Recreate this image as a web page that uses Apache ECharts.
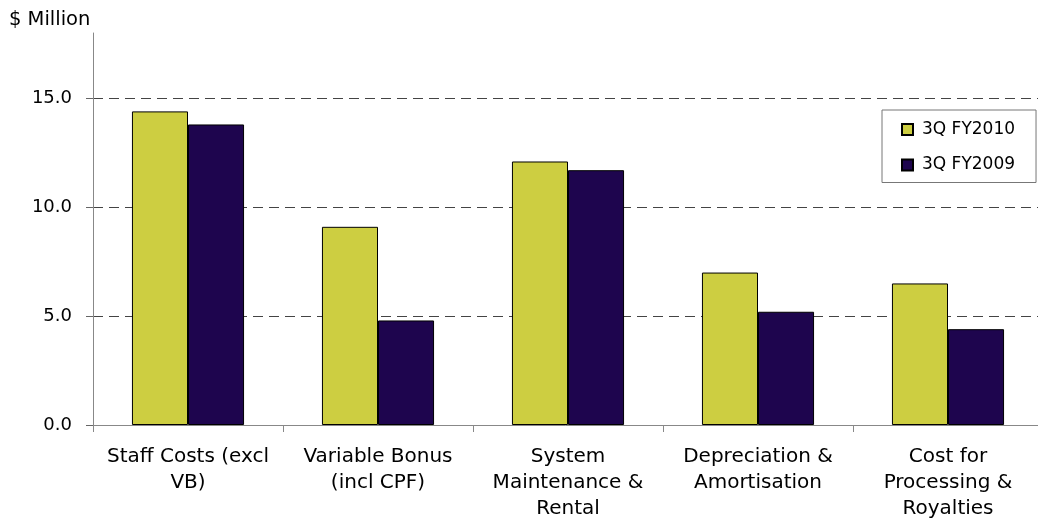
<!DOCTYPE html>
<html>
<head>
<meta charset="utf-8">
<script src="https://cdn.jsdelivr.net/npm/echarts@6/dist/echarts.min.js"></script>
<style>
html,body{margin:0;padding:0;background:#fff;}
#chart{width:1038px;height:518px;}
</style>
</head>
<body>
<div id="chart"></div>
<script>
const categories = [
  "Staff Costs (excl\nVB)",
  "Variable Bonus\n(incl CPF)",
  "System\nMaintenance &\nRental",
  "Depreciation &\nAmortisation",
  "Cost for\nProcessing &\nRoyalties"
];
const seriesNames = ["3Q FY2010", "3Q FY2009"];
const fy2010 = [14.4, 9.1, 12.1, 7.0, 6.5];
const fy2009 = [13.8, 4.8, 11.7, 5.2, 4.4];
const yTicks = [0, 5, 10, 15];
const yAxisTitle = "$ Million";

const FONT = "'DejaVu Sans', Verdana, sans-serif";
const chart = echarts.init(document.getElementById('chart'), null, {renderer: 'canvas'});
chart.setOption({
  animation: false,
  backgroundColor: '#ffffff',
  title: {
    text: yAxisTitle,
    left: 9, top: 10, padding: 0,
    textStyle: {fontFamily: FONT, fontSize: 19.5, fontWeight: 'normal', color: '#000'}
  },
  legend: {
    orient: 'vertical',
    left: 882, top: 110,
    padding: [11, 21, 9, 19],
    itemGap: 18.5,
    itemWidth: 11, itemHeight: 11,
    borderColor: '#777', borderWidth: 1,
    icon: 'rect',
    data: seriesNames,
    textStyle: {fontFamily: FONT, fontSize: 17, color: '#000', padding: [0, 0, 0, 4]}
  },
  grid: {left: 93, top: 33, width: 950, height: 392, containLabel: false, outerBoundsMode: 'none'},
  xAxis: {
    type: 'category',
    data: categories,
    axisLine: {lineStyle: {color: '#888', width: 1}},
    axisTick: {show: true, length: 7, lineStyle: {color: '#888'}},
    axisLabel: {
      interval: 0, margin: 19, color: '#000',
      fontFamily: FONT, fontSize: 20, lineHeight: 26, align: 'center'
    }
  },
  yAxis: {
    type: 'value',
    min: 0, max: 18, interval: 5,
    axisLine: {show: true, lineStyle: {color: '#888', width: 1}},
    axisTick: {show: true, length: 7, customValues: yTicks, lineStyle: {color: '#666'}},
    axisLabel: {
      customValues: yTicks, margin: 21, color: '#000',
      fontFamily: FONT, fontSize: 18,
      formatter: v => v.toFixed(1)
    },
    splitLine: {
      show: true, showMinLine: false, showMaxLine: true,
      lineStyle: {color: '#444', type: [10, 6], width: 1}
    }
  },
  series: [
    {
      name: seriesNames[0], type: 'bar', data: fy2010,
      barGap: '0%', barCategoryGap: '41%',
      itemStyle: {color: '#CDCE41', borderColor: '#000', borderWidth: 1}
    },
    {
      name: seriesNames[1], type: 'bar', data: fy2009,
      barGap: '0%', barCategoryGap: '41%',
      itemStyle: {color: '#1E054E', borderColor: '#000', borderWidth: 1}
    }
  ]
});
</script>
</body>
</html>
